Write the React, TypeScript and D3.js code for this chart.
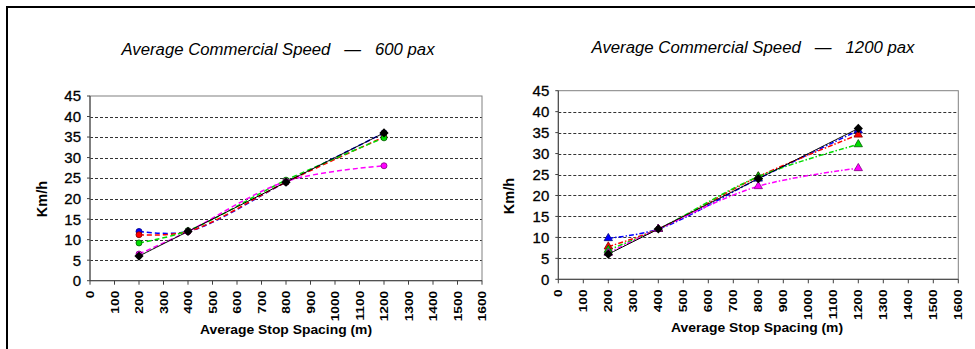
import React from "react";
import * as d3 from "d3";

const xTicks = [0, 100, 200, 300, 400, 500, 600, 700, 800, 900, 1000, 1100, 1200, 1300, 1400, 1500, 1600];
const yTicks = [0, 5, 10, 15, 20, 25, 30, 35, 40, 45];
const spacing = [200, 400, 800, 1200];

// 600 pax
const p600Blue = [12, 12, 24, 36];
const p600Red = [11.2, 12, 24, 35];
const p600Green = [9.2, 12.2, 24.5, 34.8];
const p600Magenta = [6.5, 12, 24.2, 28];
const p600Black = [6, 12, 24, 36];

// 1200 pax
const p1200Blue = [9.8, 12, 24, 35.5];
const p1200Red = [7.8, 12, 24.5, 34.5];
const p1200Green = [7, 12, 24.5, 32.2];
const p1200Magenta = [6.3, 12, 22.2, 26.5];
const p1200Black = [6, 12, 24, 36];

const titles = ["Average Commercial Speed   \u2014   600 pax", "Average Commercial Speed   \u2014   1200 pax"];
const yLabel = "Km/h";
const xLabel = "Average Stop Spacing (m)";

const colors = { blue: "#0000ff", red: "#ff0000", green: "#00dd00", magenta: "#ff00ff", black: "#000000" };
const strokes = { blue: "#000080", red: "#800000", green: "#006000", magenta: "#800080", black: "#000000" };

type Series = { key: keyof typeof colors; values: number[] };

const panels = [
  {
    title: titles[0],
    x0: 90, x1: 482, y0: 280.7, y1: 96,
    titleX: 278, titleY: 55, titleW: 313, yLabX: 47, yLabY: 199, xLabX: 286, xLabY: 334,
    marker: "circle", dash: "5,3",
    series: [
      { key: "blue", values: p600Blue },
      { key: "red", values: p600Red },
      { key: "green", values: p600Green },
      { key: "magenta", values: p600Magenta },
      { key: "black", values: p600Black },
    ] as Series[],
  },
  {
    title: titles[1],
    x0: 558.3, x1: 958.3, y0: 279.3, y1: 90.7,
    titleX: 753, titleY: 53, titleW: 323, yLabX: 514, yLabY: 196, xLabX: 757, xLabY: 332,
    marker: "triangle", dash: "5,2,1.5,2",
    series: [
      { key: "blue", values: p1200Blue },
      { key: "red", values: p1200Red },
      { key: "green", values: p1200Green },
      { key: "magenta", values: p1200Magenta },
      { key: "black", values: p1200Black },
    ] as Series[],
  },
];

const font = "Liberation Sans, Arial, sans-serif";

function Panel({ p }: { p: (typeof panels)[number] }) {
  const x = d3.scaleLinear().domain([0, 1600]).range([p.x0, p.x1]);
  const y = d3.scaleLinear().domain([0, 45]).range([p.y0, p.y1]);
  const line = d3
    .line<number>()
    .x((_, i) => x(spacing[i]))
    .y((v) => y(v))
    .curve(d3.curveCatmullRom.alpha(0.5));
  const diamond = "M0,-4.6L4.6,0L0,4.6L-4.6,0Z";
  const tri = d3.symbol(d3.symbolTriangle, 30)()!;
  return (
    <g>
      <text
        x={p.titleX - p.titleW / 2}
        y={p.titleY}
        textLength={p.titleW}
        lengthAdjust="spacingAndGlyphs"
        fontFamily={font}
        fontStyle="italic"
        fontSize={16}
        style={{ whiteSpace: "pre" }}
      >
        {p.title}
      </text>
      {yTicks.slice(1, -1).map((t) => (
        <line key={t} x1={p.x0} x2={p.x1} y1={Math.round(y(t)) + 0.5} y2={Math.round(y(t)) + 0.5} stroke="#333" strokeWidth={1} strokeDasharray="3,2" />
      ))}
      <rect x={p.x0} y={p.y1} width={p.x1 - p.x0} height={p.y0 - p.y1} fill="none" stroke="#808080" strokeWidth={1} />
      <line x1={p.x0} x2={p.x0} y1={p.y1} y2={p.y0} stroke="#404040" />
      <line x1={p.x0} x2={p.x1} y1={p.y0} y2={p.y0} stroke="#404040" />
      {xTicks.map((t) => (
        <g key={t}>
          <line x1={x(t)} x2={x(t)} y1={p.y0} y2={p.y0 + 4} stroke="#404040" />
          <text
            transform={`translate(${x(t)},${p.y0 + 10}) rotate(-90) scale(1.2,1)`}
            textAnchor="end"
            dy="0.36em"
            fontFamily={font}
            fontWeight="bold"
            fontSize={11.5}
          >
            {t}
          </text>
        </g>
      ))}
      {yTicks.map((t) => (
        <g key={t}>
          <line x1={p.x0 - 3} x2={p.x0} y1={y(t)} y2={y(t)} stroke="#404040" />
          <text x={p.x0 - 9} y={y(t)} dy="0.36em" textAnchor="end" fontFamily={font} fontSize={15} stroke="#000" strokeWidth={0.3}>
            {t}
          </text>
        </g>
      ))}
      <text transform={`translate(${p.yLabX},${p.yLabY}) rotate(-90)`} textAnchor="middle" fontFamily={font} fontWeight="bold" fontSize={14.5}>
        {yLabel}
      </text>
      <text
        x={p.xLabX - 86}
        y={p.xLabY}
        textLength={172}
        lengthAdjust="spacingAndGlyphs"
        fontFamily={font}
        fontWeight="bold"
        fontSize={13}
      >
        {xLabel}
      </text>
      {p.series.map((s) => (
        <path
          key={s.key}
          d={line(s.values)!}
          fill="none"
          stroke={colors[s.key]}
          strokeWidth={s.key === "black" ? 1 : 1.5}
          strokeDasharray={s.key === "black" ? undefined : p.dash}
        />
      ))}
      {p.series.map((s) =>
        s.values.map((v, i) => {
          const cx = x(spacing[i]);
          const cy = y(v);
          if (s.key === "black") {
            return <path key={s.key + i} d={diamond} transform={`translate(${cx},${cy})`} fill="#000" />;
          }
          if (p.marker === "circle") {
            return <circle key={s.key + i} cx={cx} cy={cy} r={3} fill={colors[s.key]} stroke={strokes[s.key]} strokeWidth={0.8} />;
          }
          return <path key={s.key + i} d={tri} transform={`translate(${cx},${cy})`} fill={colors[s.key]} stroke={strokes[s.key]} strokeWidth={0.8} />;
        })
      )}
    </g>
  );
}

export default function App() {
  return (
    <svg width={975} height={349} style={{ position: "absolute", left: 0, top: 0, background: "#fff" }}>
      <rect x={0} y={0} width={975} height={349} fill="#fff" />
      <path d="M7,349 V7 H975" fill="none" stroke="#000" strokeWidth={2} />
      {panels.map((p, i) => (
        <Panel key={i} p={p} />
      ))}
    </svg>
  );
}
